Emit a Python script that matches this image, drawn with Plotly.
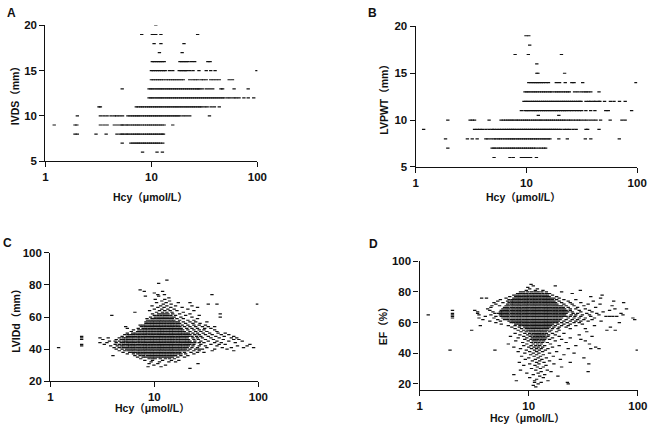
import plotly.graph_objects as go

W, H = 658, 429

# ---------------- data (Hcy in umol/L; rows: (y value, [Hcy values])) ----------------
ivds_rows = [
    (20, [11.0]),
    (19, [8.1, 10.2, 10.6, 11.0, 12.3, 27.3]),
    (18, [10.6, 12.3, 20.3]),
    (17, [11.9, 19.5]),
    (16, [10.2, 10.6, 11.1, 11.6, 12.1, 12.6, 13.2, 18.6, 19.4, 20.3, 21.2, 22.2, 23.9, 25.6, 34.1, 35.8]),
    (15, [10.0, 10.4, 10.9, 11.4, 11.9, 12.4, 13.0, 13.5, 14.8, 15.9, 18.3, 19.1, 19.9, 20.8, 21.4, 23.0, 24.7,
          28.1, 32.9, 36.3, 39.9, 99.0]),
    (14, [10.0, 10.4, 10.9, 11.4, 11.9, 12.4, 13.0, 13.8, 14.5, 15.2, 15.9, 16.6, 17.4, 18.2, 19.1, 20.0, 23.0,
          24.6, 26.0, 27.5, 29.6, 31.0, 32.9, 36.3, 38.5, 41.0, 43.7, 54.2, 58.2]),
    (13, [5.3, 9.5, 9.9, 10.3, 10.8, 11.3, 11.8, 12.3, 12.8, 13.4, 14.0, 14.6, 15.2, 15.9, 16.6, 17.3, 18.1, 18.9,
          19.7, 20.6, 21.5, 22.4, 23.4, 24.4, 25.5, 26.6, 27.6, 28.5, 30.2, 32.9, 35.3, 37.9, 45.3, 47.0, 60.3, 81.9]),
    (12, [9.5, 9.9, 10.3, 10.8, 11.3, 11.8, 12.3, 12.8, 13.4, 14.0, 14.6, 15.2, 15.9, 16.6, 17.3, 18.1, 18.9, 19.7,
          20.6, 21.5, 22.4, 23.4, 24.4, 25.5, 26.6, 27.8, 29.0, 30.3, 31.6, 33.0, 34.4, 35.9, 37.5, 39.1, 40.8, 42.6,
          44.5, 46.5, 48.5, 52.3, 55.5, 59.8, 63.0, 67.1, 74.6, 82.0, 92.4]),
    (11, [3.2, 3.3, 7.2, 7.5, 7.9, 8.2, 8.6, 9.0, 9.4, 9.8, 10.2, 10.7, 11.1, 11.6, 12.1, 12.6, 13.2, 13.8, 14.4,
          15.0, 15.7, 16.4, 17.1, 17.8, 18.6, 19.4, 20.3, 21.2, 22.1, 23.1, 24.1, 25.1, 26.2, 27.4, 28.6, 29.6, 31.7,
          33.6, 36.6, 39.3, 43.7]),
    (10, [2.0, 3.3, 3.56, 3.82, 4.16, 4.47, 4.7, 5.0, 5.34, 6.0, 6.3, 6.6, 6.9, 7.2, 7.5, 7.8, 8.2, 8.6, 9.0, 9.4,
          9.8, 10.2, 10.7, 11.1, 11.6, 12.1, 12.6, 13.2, 13.8, 14.4, 15.0, 15.7, 16.4, 17.1, 17.8, 18.6, 20.0, 21.4,
          23.0, 35.3]),
    (9, [1.21, 1.9, 1.98, 3.3, 3.56, 3.82, 4.47, 4.8, 5.15, 5.3, 5.5, 5.8, 6.0, 6.3, 6.6, 6.9, 7.2, 7.5, 7.8, 8.2,
         8.6, 9.0, 9.4, 9.8, 10.2, 10.7, 11.1, 11.6, 12.1, 12.6, 13.2, 15.9]),
    (8, [1.9, 2.0, 3.0, 3.74, 4.73, 5.08, 5.3, 5.5, 5.8, 6.0, 6.3, 6.6, 6.9, 7.2, 7.5, 7.8, 8.2, 8.6, 9.0, 9.4, 9.8,
         10.2, 10.7, 11.1, 11.6, 12.1, 12.6, 13.0]),
    (7, [5.3, 6.4, 6.7, 7.0, 7.3, 7.6, 7.9, 8.3, 8.6, 9.0, 9.4, 9.8, 10.2, 10.7, 11.1, 11.6, 12.1, 12.8]),
    (6, [8.25, 11.3, 12.7]),
]

lvpwt_rows = [
    (19, [9.9, 10.5]),
    (18, [10.7]),
    (17, [7.9, 10.4, 20.7]),
    (16, [12.4]),
    (15, [12.4, 12.7, 22.1]),
    (14, [10.5, 11.0, 11.5, 12.0, 12.5, 13.0, 13.6, 14.2, 15.0, 15.8, 18.6, 19.9, 22.4, 25.7, 26.9, 32.2, 97.5]),
    (13, [9.7, 10.1, 10.5, 11.0, 11.5, 12.0, 12.5, 13.1, 13.7, 14.3, 14.9, 15.6, 16.3, 16.9, 18.0, 18.8, 19.6, 20.5,
          21.5, 22.5, 23.5, 24.4, 27.2, 29.0, 31.1, 33.0, 34.5, 36.0, 38.1, 45.2]),
    (12, [9.5, 9.9, 10.3, 10.8, 11.3, 11.8, 12.3, 12.8, 13.4, 14.0, 14.6, 15.2, 15.9, 16.6, 17.3, 18.1, 18.9, 19.7,
          20.6, 21.5, 22.4, 23.4, 24.4, 25.5, 26.6, 27.8, 29.0, 30.3, 31.1, 34.5, 36.5, 38.0, 40.5, 42.0, 44.9, 46.0,
          50.7, 57.3, 61.7, 69.2, 77.9]),
    (11, [9.0, 9.7, 10.1, 10.5, 11.0, 11.5, 12.0, 12.5, 13.1, 13.7, 14.3, 14.9, 15.6, 16.3, 17.0, 17.8, 18.6, 19.4,
          20.3, 21.2, 22.1, 23.0, 24.3, 25.5, 27.0, 28.5, 30.0, 31.5, 34.4, 38.0, 41.5, 52.0, 54.8, 89.0]),
    (10.5, [12.8, 19.6]),
    (10, [1.95, 3.1, 3.25, 3.4, 4.6, 5.9, 6.2, 6.5, 6.8, 7.1, 7.4, 7.7, 8.1, 8.4, 8.8, 9.2, 9.6, 10.0, 10.4, 10.9,
          11.4, 11.9, 12.4, 13.0, 13.5, 14.1, 14.8, 15.4, 16.1, 16.8, 17.5, 18.3, 19.1, 19.9, 20.8, 21.7, 22.7, 24.0,
          25.0, 26.5, 28.0, 29.5, 31.0, 33.0, 35.0, 37.5, 40.0, 42.5, 46.7, 57.0, 72.8, 77.8]),
    (9, [1.18, 3.4, 3.6, 3.8, 4.0, 4.3, 4.6, 4.9, 5.1, 5.4, 5.7, 6.0, 6.3, 6.6, 6.9, 7.2, 7.5, 7.8, 8.2, 8.6, 9.0,
         9.4, 9.8, 10.2, 10.7, 11.1, 11.6, 12.1, 12.6, 13.2, 13.8, 14.4, 15.0, 15.7, 16.4, 17.1, 17.9, 18.6, 19.5,
         20.5, 22.0, 23.2, 24.4, 26.3, 28.1, 34.5, 35.7, 45.2]),
    (8, [1.86, 2.93, 3.24, 3.59, 4.3, 4.5, 4.8, 5.1, 5.3, 5.6, 5.8, 6.1, 6.4, 6.7, 7.0, 7.3, 7.6, 7.9, 8.3, 8.6, 9.0,
         9.4, 9.8, 10.2, 10.7, 11.1, 11.6, 12.1, 12.6, 13.2, 13.8, 14.4, 15.0, 15.7, 16.3, 19.6, 23.4, 34.0, 38.1,
         68.9]),
    (7, [1.95, 4.9, 5.1, 5.3, 5.6, 5.8, 6.1, 6.4, 6.7, 7.0, 7.3, 7.6, 7.9, 8.3, 8.6, 9.0, 9.4, 9.8, 10.2, 10.7,
         11.1, 11.6, 12.1, 12.9, 13.6, 14.3, 14.9]),
    (6, [5.1, 7.1, 7.6, 9.0, 9.4, 9.9, 10.4, 10.9, 12.3]),
]

lvidd_rows = [
    (83, [13.2]), (81, [11.0]), (77, [7.3]), (76, [8.0, 12.0]), (75, [10.0]), (74, [10.8, 12.5, 35.8]),
    (73, [8.2, 11.0]), (72, [13.8]), (71, [10.2, 12.6]), (70, [11.8, 14.0]), (69, [10.5, 13.0, 17.0, 22.0]),
    (68, [12.2, 14.5, 33.0, 40.0, 98.0]), (67, [9.5, 11.5, 13.2, 16.0, 23.0]), (66, [10.8, 12.4, 14.4, 18.5, 26.0]),
    (65, [10.0, 11.8, 13.5, 15.5, 21.0]), (64, [9.0, 11.2, 12.6, 14.2, 16.5, 24.0]),
    (63, [6.5, 10.5, 12.0, 13.2, 14.8, 19.0]), (62, [9.6, 11.0, 11.8, 12.6, 13.5, 15.0, 17.5, 22.0, 43.0]),
    (61, [3.9, 10.0, 10.8, 11.6, 12.5, 13.4, 14.4, 16.0, 20.0, 27.0]),
    (60, [9.2, 10.2, 11.0, 11.8, 12.6, 13.5, 14.5, 15.5, 18.0, 23.0, 43.0]),
    (59, [8.5, 9.5, 10.1, 10.8, 11.5, 12.3, 13.1, 14.0, 14.9, 16.5, 19.0, 26.0]),
    (58, [8.6, 9.2, 9.8, 10.5, 11.2, 11.9, 12.7, 13.6, 14.5, 15.4, 17.5, 21.0, 24.0]),
    (57, [8.3, 8.9, 9.5, 10.1, 10.8, 11.5, 12.3, 13.1, 14.0, 14.9, 15.9, 17.0, 19.0, 22.0, 25.0, 32.0]),
    (56, [8.3, 8.6, 9.2, 9.8, 10.5, 11.2, 11.9, 12.7, 13.6, 14.5, 15.4, 16.5, 17.5, 20.0, 23.5, 27.5]),
    (55, [7.3, 7.8, 8.3, 8.9, 9.5, 10.1, 10.8, 11.5, 12.3, 13.1, 14.0, 14.9, 15.9, 17.0, 18.5, 21.0, 24.0, 27.0,
          31.0]),
    (54, [5.3, 7.5, 8.1, 8.6, 9.2, 9.8, 10.5, 11.2, 11.9, 12.7, 13.6, 14.5, 15.4, 16.5, 17.6, 19.5, 22.0, 25.0,
          29.0, 33.0, 38.0]),
    (53, [5.5, 7.0, 7.8, 8.3, 8.9, 9.5, 10.1, 10.8, 11.5, 12.3, 13.1, 14.0, 14.9, 15.9, 17.0, 18.1, 20.5, 23.0,
          26.0, 30.5, 35.0]),
    (52, [6.3, 7.1, 7.6, 8.1, 8.6, 9.2, 9.8, 10.5, 11.2, 11.9, 12.7, 13.6, 14.5, 15.4, 16.5, 17.6, 18.7, 21.0,
          24.0, 27.0, 30.0, 38.0]),
    (51, [6.0, 6.9, 7.3, 7.8, 8.3, 8.9, 9.5, 10.1, 10.8, 11.5, 12.3, 13.1, 14.0, 14.9, 15.9, 17.0, 18.1, 19.4,
          22.0, 25.0, 28.0, 32.0, 40.0]),
    (50, [5.5, 6.2, 6.6, 7.1, 7.6, 8.1, 8.6, 9.2, 9.8, 10.5, 11.2, 11.9, 12.7, 13.6, 14.5, 15.4, 16.5, 17.6, 18.7,
          20.0, 21.3, 23.5, 26.0, 29.5, 34.0, 41.0, 48.0]),
    (49, [5.2, 5.6, 6.0, 6.4, 6.9, 7.3, 7.8, 8.3, 8.9, 9.5, 10.1, 10.8, 11.5, 12.3, 13.1, 14.0, 14.9, 15.9, 17.0,
          18.1, 19.4, 20.7, 22.0, 24.5, 27.0, 31.0, 36.0, 44.0, 52.0]),
    (48, [2.0, 4.9, 5.5, 5.8, 6.2, 6.6, 7.1, 7.6, 8.1, 8.6, 9.2, 9.8, 10.5, 11.2, 11.9, 12.7, 13.6, 14.5, 15.4,
          16.5, 17.6, 18.7, 20.0, 21.3, 23.0, 25.5, 28.0, 33.0, 39.0, 47.0, 58.0]),
    (47, [2.0, 3.0, 3.6, 4.6, 5.0, 5.3, 5.6, 6.0, 6.4, 6.9, 7.3, 7.8, 8.3, 8.9, 9.5, 10.1, 10.8, 11.5, 12.3, 13.1,
          14.0, 14.9, 15.9, 17.0, 18.1, 19.4, 20.7, 23.5, 26.0, 29.0, 35.0, 42.0, 55.0, 62.0]),
    (46, [2.0, 3.2, 4.3, 4.8, 5.1, 5.5, 5.8, 6.2, 6.6, 7.1, 7.6, 8.1, 8.6, 9.2, 9.8, 10.5, 11.2, 11.9, 12.7, 13.6,
          14.5, 15.4, 16.5, 17.6, 18.7, 20.0, 21.3, 24.0, 26.5, 31.0, 37.0, 46.0, 58.0, 65.0]),
    (45, [3.7, 4.2, 4.6, 5.0, 5.3, 5.6, 6.0, 6.4, 6.9, 7.3, 7.8, 8.3, 8.9, 9.5, 10.1, 10.8, 11.5, 12.3, 13.1, 14.0,
          14.9, 15.9, 17.0, 18.1, 19.4, 20.7, 22.0, 24.5, 28.0, 33.0, 40.0, 52.0, 70.0]),
    (44, [3.0, 3.5, 4.3, 4.8, 5.1, 5.5, 5.8, 6.2, 6.6, 7.1, 7.6, 8.1, 8.6, 9.2, 9.8, 10.5, 11.2, 11.9, 12.7, 13.6,
          14.5, 15.4, 16.5, 17.6, 18.7, 20.0, 21.3, 22.8, 24.5, 27.0, 30.0, 38.0, 44.0, 60.0]),
    (43, [2.0, 3.3, 4.2, 4.6, 5.0, 5.3, 5.6, 6.0, 6.4, 6.9, 7.3, 7.8, 8.3, 8.9, 9.5, 10.1, 10.8, 11.5, 12.3, 13.1,
          14.0, 14.9, 15.9, 17.0, 18.1, 19.4, 20.7, 22.0, 24.0, 28.0, 35.0, 42.0, 48.0, 83.0]),
    (42, [2.0, 3.8, 4.4, 4.8, 5.1, 5.5, 5.8, 6.2, 6.6, 7.1, 7.6, 8.1, 8.6, 9.2, 9.8, 10.5, 11.2, 11.9, 12.7, 13.6,
          14.5, 15.4, 16.5, 17.6, 18.7, 20.0, 21.3, 23.5, 27.0, 31.0, 40.0, 63.0, 78.0]),
    (41, [1.2, 4.1, 4.6, 5.0, 5.3, 5.6, 6.0, 6.4, 6.9, 7.3, 7.8, 8.3, 8.9, 9.5, 10.1, 10.8, 11.5, 12.3, 13.1, 14.0,
          14.9, 15.9, 17.0, 18.1, 19.4, 20.7, 23.0, 26.0, 32.0, 45.0, 55.0, 72.0, 90.0]),
    (40, [4.3, 4.9, 5.4, 5.8, 6.2, 6.6, 7.1, 7.6, 8.1, 8.6, 9.2, 9.8, 10.5, 11.2, 11.9, 12.7, 13.6, 14.5, 15.4,
          16.5, 17.6, 18.7, 20.0, 22.0, 25.0, 27.0, 29.0, 38.0, 50.0]),
    (39, [4.6, 5.2, 5.6, 6.0, 6.4, 6.9, 7.3, 7.8, 8.3, 8.9, 9.5, 10.1, 10.8, 11.5, 12.3, 13.1, 14.0, 14.9, 15.9,
          17.0, 18.1, 19.4, 21.0, 24.0, 27.0, 36.0, 58.0]),
    (38, [5.0, 5.8, 6.2, 6.6, 7.1, 7.6, 8.1, 8.6, 9.2, 9.8, 10.5, 11.2, 11.9, 12.7, 13.6, 14.5, 15.4, 16.5, 17.6,
          19.5, 22.5, 26.0, 30.0]),
    (37, [5.5, 6.3, 6.9, 7.3, 7.8, 8.3, 8.9, 9.5, 10.1, 10.8, 11.5, 12.3, 13.1, 14.0, 14.9, 15.9, 17.0, 18.0, 20.0,
          24.0]),
    (36, [4.0, 6.5, 7.3, 7.9, 8.6, 9.2, 9.8, 10.5, 11.2, 11.9, 12.7, 13.6, 14.5, 15.4, 16.0, 18.0, 21.0]),
    (35, [6.9, 7.8, 8.3, 8.9, 9.5, 10.1, 10.8, 11.5, 12.3, 13.1, 14.0, 14.9, 16.8, 19.5]),
    (34, [7.4, 8.9, 9.6, 10.2, 11.4, 12.8, 14.0, 15.6]),
    (33, [8.1, 9.6, 12.0, 14.6, 17.2]),
    (32, [9.3, 11.2, 13.8, 16.0]),
    (31, [8.9, 10.8, 26.3]),
    (30, [9.9, 12.8]),
    (29, [8.7, 11.6]),
    (28, [22.0]),
]

ef_rows = [
    (85, [10.5]), (84, [11.0, 17.5]), (83, [9.8]), (82, [10.2, 12.0]), (81, [9.5, 11.5, 13.5, 29.7]),
    (80, [8.4, 9.0, 9.8, 10.6, 11.4, 12.2, 13.2, 14.5, 20.0]),
    (79, [7.9, 8.4, 9.0, 9.6, 10.3, 11.0, 11.8, 12.6, 13.5, 14.5, 15.5, 25.0]),
    (78, [7.3, 7.8, 8.3, 8.9, 9.5, 10.1, 10.8, 11.5, 12.3, 13.1, 14.0, 14.9, 16.5, 47.0]),
    (77, [6.7, 7.6, 8.1, 8.6, 9.2, 9.8, 10.5, 11.2, 11.9, 12.7, 13.6, 14.5, 15.4, 18.0, 37.0]),
    (76, [3.7, 4.1, 6.2, 7.3, 7.8, 8.3, 8.9, 9.5, 10.1, 10.8, 11.5, 12.3, 13.1, 14.0, 14.9, 15.9, 17.0, 19.0,
          45.5]),
    (75, [5.5, 6.6, 7.1, 7.6, 8.1, 8.6, 9.2, 9.8, 10.5, 11.2, 11.9, 12.7, 13.6, 14.5, 15.4, 16.5, 18.0, 21.0,
          27.0]),
    (74, [5.2, 6.4, 6.9, 7.3, 7.8, 8.3, 8.9, 9.5, 10.1, 10.8, 11.5, 12.3, 13.1, 14.0, 14.9, 15.9, 17.0, 19.0,
          23.0, 39.0, 60.0]),
    (73, [4.8, 5.8, 6.6, 7.1, 7.6, 8.1, 8.6, 9.2, 9.8, 10.5, 11.2, 11.9, 12.7, 13.6, 14.5, 15.4, 16.5, 17.6, 20.0,
          24.0, 30.0, 74.0]),
    (72, [5.0, 6.4, 6.9, 7.3, 7.8, 8.3, 8.9, 9.5, 10.1, 10.8, 11.5, 12.3, 13.1, 14.0, 14.9, 15.9, 17.0, 18.1, 21.0,
          25.0, 35.0, 45.0]),
    (71, [4.6, 5.4, 6.2, 6.6, 7.1, 7.6, 8.1, 8.6, 9.2, 9.8, 10.5, 11.2, 11.9, 12.7, 13.6, 14.5, 15.4, 16.5, 17.6,
          18.7, 20.0, 22.0, 26.0, 32.0, 58.0]),
    (70, [4.5, 6.0, 6.4, 6.9, 7.3, 7.8, 8.3, 8.9, 9.5, 10.1, 10.8, 11.5, 12.3, 13.1, 14.0, 14.9, 15.9, 17.0, 18.1,
          19.4, 20.7, 23.0, 28.0, 41.0]),
    (69, [4.2, 5.8, 6.2, 6.6, 7.1, 7.6, 8.1, 8.6, 9.2, 9.8, 10.5, 11.2, 11.9, 12.7, 13.6, 14.5, 15.4, 16.5, 17.6,
          18.7, 20.0, 21.3, 24.0, 27.0, 33.0, 61.6, 78.6]),
    (68, [2.0, 3.2, 4.4, 5.6, 6.0, 6.4, 6.9, 7.3, 7.8, 8.3, 8.9, 9.5, 10.1, 10.8, 11.5, 12.3, 13.1, 14.0, 14.9,
          15.9, 17.0, 18.1, 19.4, 20.7, 22.0, 24.0, 29.0, 36.0, 55.0]),
    (67, [3.4, 4.7, 5.5, 5.8, 6.2, 6.6, 7.1, 7.6, 8.1, 8.6, 9.2, 9.8, 10.5, 11.2, 11.9, 12.7, 13.6, 14.5, 15.4,
          16.5, 17.6, 18.7, 20.0, 21.3, 22.8, 25.0, 30.0, 38.0, 48.0]),
    (66, [2.0, 3.4, 4.9, 5.3, 5.6, 6.0, 6.4, 6.9, 7.3, 7.8, 8.3, 8.9, 9.5, 10.1, 10.8, 11.5, 12.3, 13.1, 14.0, 14.9,
          15.9, 17.0, 18.1, 19.4, 20.7, 22.0, 25.5, 28.0, 34.0, 42.0, 70.0]),
    (65, [1.2, 2.0, 3.5, 4.5, 5.5, 5.8, 6.2, 6.6, 7.1, 7.6, 8.1, 8.6, 9.2, 9.8, 10.5, 11.2, 11.9, 12.7, 13.6, 14.5,
          15.4, 16.5, 17.6, 18.7, 20.0, 21.3, 24.5, 27.0, 31.0, 36.0, 44.0, 73.0]),
    (64, [2.0, 4.0, 5.0, 5.6, 6.0, 6.4, 6.9, 7.3, 7.8, 8.3, 8.9, 9.5, 10.1, 10.8, 11.5, 12.3, 13.1, 14.0, 14.9,
          15.9, 17.0, 18.1, 19.4, 20.7, 22.0, 24.0, 26.5, 30.0, 37.0, 51.0, 55.0, 59.0, 64.0]),
    (63, [2.0, 3.5, 4.8, 5.8, 6.2, 6.6, 7.1, 7.6, 8.1, 8.6, 9.2, 9.8, 10.5, 11.2, 11.9, 12.7, 13.6, 14.5, 15.4,
          16.5, 17.6, 18.7, 20.0, 23.0, 26.0, 29.0, 33.0, 40.0, 90.0]),
    (62, [3.8, 5.2, 6.0, 6.4, 6.9, 7.3, 7.8, 8.3, 8.9, 9.5, 10.1, 10.8, 11.5, 12.3, 13.1, 14.0, 14.9, 15.9, 17.0,
          18.1, 19.4, 22.0, 25.0, 28.0, 32.0, 38.0, 93.5]),
    (61, [4.4, 5.5, 6.6, 7.1, 7.6, 8.1, 8.6, 9.2, 9.8, 10.5, 11.2, 11.9, 12.7, 13.6, 14.5, 15.4, 16.5, 17.6, 18.7,
          21.0, 24.0, 27.0, 30.0, 35.0, 46.0]),
    (60, [5.0, 6.9, 7.3, 7.8, 8.3, 8.9, 9.5, 10.1, 10.8, 11.5, 12.3, 13.1, 14.0, 14.9, 15.9, 17.0, 18.1, 20.0,
          22.5, 26.0, 29.0, 67.6]),
    (59, [5.6, 7.6, 8.1, 8.6, 9.2, 9.8, 10.5, 11.2, 11.9, 12.7, 13.6, 14.5, 15.4, 16.5, 18.5, 21.0, 24.0, 31.0]),
    (58, [3.6, 6.5, 7.5, 8.3, 8.9, 9.5, 10.1, 10.8, 11.5, 12.3, 13.1, 14.0, 14.9, 15.9, 17.5, 20.0, 23.0, 27.0,
          40.0]),
    (57, [7.0, 8.2, 9.2, 9.8, 10.5, 11.2, 11.9, 12.7, 13.6, 14.5, 15.4, 17.0, 19.0, 22.0, 56.0]),
    (56, [7.5, 8.6, 9.5, 10.1, 10.8, 11.5, 12.3, 13.1, 14.0, 14.9, 16.5, 18.5, 24.0, 33.0]),
    (55, [3.0, 8.0, 9.0, 9.8, 10.4, 11.0, 11.6, 12.3, 13.0, 13.8, 14.7, 16.0, 19.0, 52.0, 62.0]),
    (54, [8.5, 9.5, 10.3, 11.0, 11.7, 12.5, 13.3, 14.2, 15.5, 18.0, 34.0]),
    (53, [7.5, 9.2, 10.2, 11.0, 11.8, 12.6, 13.5, 14.5, 16.5, 21.0]),
    (52, [8.3, 9.8, 10.7, 11.5, 12.3, 13.1, 14.0, 15.2, 17.5, 29.0]),
    (51, [6.8, 9.0, 10.3, 11.2, 12.0, 12.9, 13.8, 15.0, 19.0, 38.0]),
    (50, [8.0, 9.6, 10.8, 11.6, 12.4, 13.3, 14.3, 16.5, 24.0]),
    (49, [9.2, 10.5, 11.3, 12.1, 13.0, 14.0, 15.5, 20.0, 30.0]),
    (48, [7.6, 9.9, 11.0, 11.8, 12.7, 13.7, 17.5, 33.0]),
    (47, [8.8, 10.6, 11.5, 12.4, 13.4, 14.8, 22.0]),
    (46, [6.5, 9.6, 11.0, 12.0, 13.0, 15.8, 36.0]),
    (45, [9.0, 10.5, 11.6, 12.6, 14.0, 19.0, 27.0]),
    (44, [7.3, 10.0, 11.2, 12.2, 13.4, 16.5, 41.0]),
    (43, [8.4, 10.6, 11.8, 13.0, 15.0, 23.0, 37.0, 44.0]),
    (42, [1.9, 4.9, 9.5, 11.3, 12.5, 14.2, 98.6]),
    (41, [8.0, 10.2, 11.8, 13.4, 18.0]),
    (40, [9.2, 11.0, 12.4, 15.5, 26.0]),
    (39, [10.4, 11.8, 13.6, 21.0]),
    (38, [8.6, 11.2, 12.8, 16.8]),
    (37, [10.0, 12.2, 14.5, 32.0]),
    (36, [9.3, 11.5, 13.2, 19.5]),
    (35, [10.8, 12.6, 15.5]),
    (34, [8.2, 11.8, 13.8, 24.0]),
    (33, [10.2, 12.4, 17.0, 35.5]),
    (32, [9.0, 11.4, 14.4]),
    (31, [12.0, 13.6, 20.0]),
    (30, [10.6, 12.8]),
    (29, [8.4, 11.6, 14.8]),
    (28, [13.0, 16.0, 35.0]),
    (27, [9.6, 12.2]),
    (26, [7.3, 11.0, 14.0]),
    (25, [12.6, 18.5]),
    (24, [10.2, 13.6]),
    (23, [11.8]),
    (22, [7.7, 11.3, 15.0]),
    (21, [11.3, 13.0, 22.6]),
    (20, [12.2, 23.0]),
    (19, [11.0]),
    (18, [11.6]),
]

x_title = "Hcy（μmol/L）"
y_titles = ["IVDS（mm）", "LVPWT（mm）", "LVIDd（mm）", "EF（%）"]
panel_letters = ["A", "B", "C", "D"]
x_tickvals = [1, 10, 100]
y_tickvals_top = [5, 10, 15, 20]
y_tickvals_bottom = [20, 40, 60, 80, 100]
y_ranges = [[5, 20], [5, 20], [20, 100], [16, 100]]


def flatten(rows):
    xs, ys = [], []
    for yv, xl in rows:
        for xv in xl:
            xs.append(xv)
            ys.append(yv)
    return xs, ys


# ---------------- layout geometry (pixels) ----------------
# (x_left, x_right, y_top, y_bottom)
boxes = [
    (43.3, 259.5, 20.0, 159.7),
    (421.0, 647.0, 21.0, 165.5),
    (48.3, 260.5, 254.0, 386.0),
    (425.0, 647.7, 262.7, 395.0),
]
letter_pos = [(9, 7), (377, 7), (5, 244), (378, 245)]
ytitle_pos = [(13, 90), (389, 93), (13, 321), (388, 326)]
xtitle_pos = [(150.5, 197), (531.5, 196), (153, 414), (535, 424)]

FONT = "Liberation Sans, Arial, Noto Sans CJK SC, sans-serif"
INK = "#111111"

fig = go.Figure()
datasets = [ivds_rows, lvpwt_rows, lvidd_rows, ef_rows]
for i, rows in enumerate(datasets):
    xs, ys = flatten(rows)
    sfx = "" if i == 0 else str(i + 1)
    fig.add_trace(go.Scatter(
        x=xs, y=ys, mode="markers", xaxis="x" + sfx, yaxis="y" + sfx,
        marker=dict(symbol="line-ew", size=2.4, color=INK, line=dict(width=1.2, color=INK)),
        showlegend=False, hoverinfo="skip",
    ))

layout = dict(
    width=W, height=H, margin=dict(l=0, r=0, t=0, b=0),
    paper_bgcolor="white", plot_bgcolor="white", showlegend=False,
    font=dict(family=FONT, color=INK),
)
annotations = []
for i, (xl, xr, yt, yb) in enumerate(boxes):
    sfx = "" if i == 0 else str(i + 1)
    yv = y_tickvals_top if i < 2 else y_tickvals_bottom
    layout["xaxis" + sfx] = dict(
        type="log", range=[0, 2], domain=[xl / W, xr / W], anchor="y" + sfx,
        tickvals=x_tickvals, ticktext=["<b>%d</b>" % v for v in x_tickvals],
        ticks="outside", ticklen=5, tickwidth=1.3, tickcolor=INK,
        showline=True, linecolor=INK, linewidth=1.3, showgrid=False, zeroline=False,
        tickfont=dict(family=FONT, size=11.5, color=INK),
    )
    layout["yaxis" + sfx] = dict(
        range=y_ranges[i], domain=[1 - yb / H, 1 - yt / H], anchor="x" + sfx,
        tickvals=yv, ticktext=["<b>%d</b>" % v for v in yv],
        ticks="outside", ticklen=5, tickwidth=1.3, tickcolor=INK,
        showline=True, linecolor=INK, linewidth=1.3, showgrid=False, zeroline=False,
        tickfont=dict(family=FONT, size=11.5, color=INK),
    )
    lx, ly = letter_pos[i]
    annotations.append(dict(text="<b>" + panel_letters[i] + "</b>", x=lx / W, y=1 - ly / H,
                            xref="paper", yref="paper", showarrow=False, xanchor="center", yanchor="middle",
                            font=dict(family=FONT, size=12, color=INK)))
    tx, ty = ytitle_pos[i]
    annotations.append(dict(text="<b>" + y_titles[i] + "</b>", x=tx / W, y=1 - ty / H,
                            xref="paper", yref="paper", showarrow=False, xanchor="center", yanchor="middle",
                            textangle=-90, font=dict(family=FONT, size=10.5, color=INK)))
    hx, hy = xtitle_pos[i]
    annotations.append(dict(text="<b>" + x_title + "</b>", x=hx / W, y=1 - hy / H,
                            xref="paper", yref="paper", showarrow=False, xanchor="center", yanchor="middle",
                            font=dict(family=FONT, size=10.5, color=INK)))
layout["annotations"] = annotations
fig.update_layout(**layout)
fig.write_html("out.html")
